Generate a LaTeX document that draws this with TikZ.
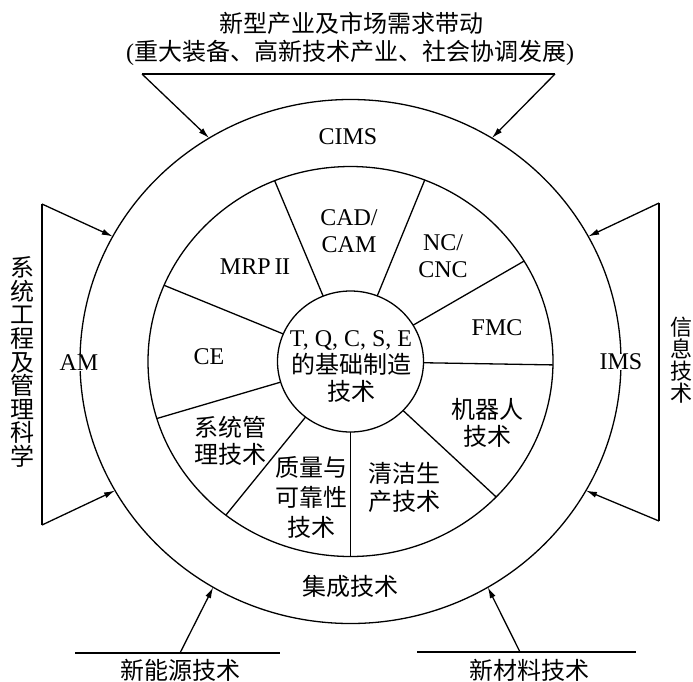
\documentclass[tikz,border=0pt]{standalone}
\usepackage{fontspec}
\setmainfont{Liberation Serif}
\newfontfamily\cjk{Noto Sans CJK SC}
\usetikzlibrary{arrows.meta,calc}
\begin{document}
\begin{tikzpicture}[x=1pt,y=-1pt,
  lbl/.style={inner sep=1pt, align=center, font=\fontsize{24}{27}\selectfont},
  ln/.style={line width=1.3pt, line join=miter},
  arr/.style={line width=1.3pt,-{Latex[length=11pt,width=6pt]}}]
\useasboundingbox (0,0) rectangle (693,681);
\coordinate (c) at (350.5,361.5);
% rings
\draw[ln] (c) ellipse [x radius=270.5pt,y radius=262pt];
\draw[ln] (c) ellipse [x radius=202.5pt,y radius=195pt];
\draw[ln] (c) ellipse [x radius=73pt,y radius=70.5pt];
% dividers
\foreach \t in {112,68.5,31,-1,-44,-90,232,197,157}
  \draw[ln] ({350.5+73*cos(\t)},{361.5-70.5*sin(\t)}) -- ({350.5+202.5*cos(\t)},{361.5-195*sin(\t)});
% arrow tip points on the outer ring
\foreach \nm/\t in {ta/121.5, tb/58.5, la/151.5, lb/209.5, ra/28.5, rb/-29.5, ba/239.5, bb/-59.5}
  \coordinate (\nm) at ({350.5+270.5*cos(\t)},{361.5-262*sin(\t)});
% top bracket
\coordinate (tl) at (142,74);
\coordinate (tr) at (555,74);
\draw[ln] (tl) -- (tr);
\draw[arr] (tl) -- (ta);
\draw[arr] (tr) -- (tb);
% left bracket
\coordinate (lt) at (42,204);
\coordinate (lbt) at (42,525);
\draw[ln] (lt) -- (lbt);
\draw[arr] (lt) -- (la);
\draw[arr] (lbt) -- (lb);
% right bracket
\coordinate (rt) at (659,203);
\coordinate (rbt) at (659,521);
\draw[ln] (rt) -- (rbt);
\draw[arr] (rt) -- (ra);
\draw[arr] (rbt) -- (rb);
% bottom lines
\coordinate (bl1) at (75,653);
\coordinate (bl2) at (280,653);
\coordinate (bls) at (180,653);
\coordinate (br1) at (417,652);
\coordinate (br2) at (636,652);
\coordinate (brs) at (520,652);
\draw[ln] (bl1) -- (bl2);
\draw[ln] (br1) -- (br2);
\draw[arr] (bls) -- (ba);
\draw[arr] (brs) -- (bb);
% texts
\node[lbl] (t1) at (351,23) {\cjk 新型产业及市场需求带动};
\node[lbl] (t2) at (350,53) {(\cjk 重大装备、高新技术产业、社会协调发展\rmfamily)};
\node[lbl] (cims) at (348,137) {CIMS};
\node[lbl, fill=white, inner sep=0pt] (am) at (79,363) {AM};
\node[lbl, fill=white, inner sep=0pt] (ims) at (621,362) {IMS};
\node[lbl] (jc) at (350,586) {\cjk 集成技术};
\node[lbl] (core) at (351,367) {T, Q, C, S, E\\{\cjk 的基础制造}\\{\cjk 技术}};
\node[lbl] (cad) at (349,231) {CAD/\\CAM};
\node[lbl] (nc) at (443,256) {NC/\\CNC};
\node[lbl] (mrp) at (255,267) {MRP\,I\kern-0.6ptI};
\node[lbl] (fmc) at (497,328) {FMC};
\node[lbl] (ce) at (209,357) {CE};
\node[lbl] (jqr) at (487,423) {\cjk 机器人\\\cjk 技术};
\node[lbl] (xtgl) at (230,441) {\cjk 系统管\\\cjk 理技术};
\node[lbl, font=\fontsize{24}{30}\selectfont] (zl) at (311,497) {\cjk 质量与\\\cjk 可靠性\\\cjk 技术};
\node[lbl, font=\fontsize{24}{28}\selectfont] (qj) at (404,487) {\cjk 清洁生\\\cjk 产技术};
\node[lbl, font=\fontsize{24}{23.6}\selectfont] (left) at (22,362) {\cjk 系\\\cjk 统\\\cjk 工\\\cjk 程\\\cjk 及\\\cjk 管\\\cjk 理\\\cjk 科\\\cjk 学};
\node[lbl, font=\fontsize{22}{22}\selectfont] (right) at (681,360) {\cjk 信\\\cjk 息\\\cjk 技\\\cjk 术};
\node[lbl] (xny) at (180,670) {\cjk 新能源技术};
\node[lbl] (xcl) at (529,670) {\cjk 新材料技术};
\end{tikzpicture}
\end{document}
